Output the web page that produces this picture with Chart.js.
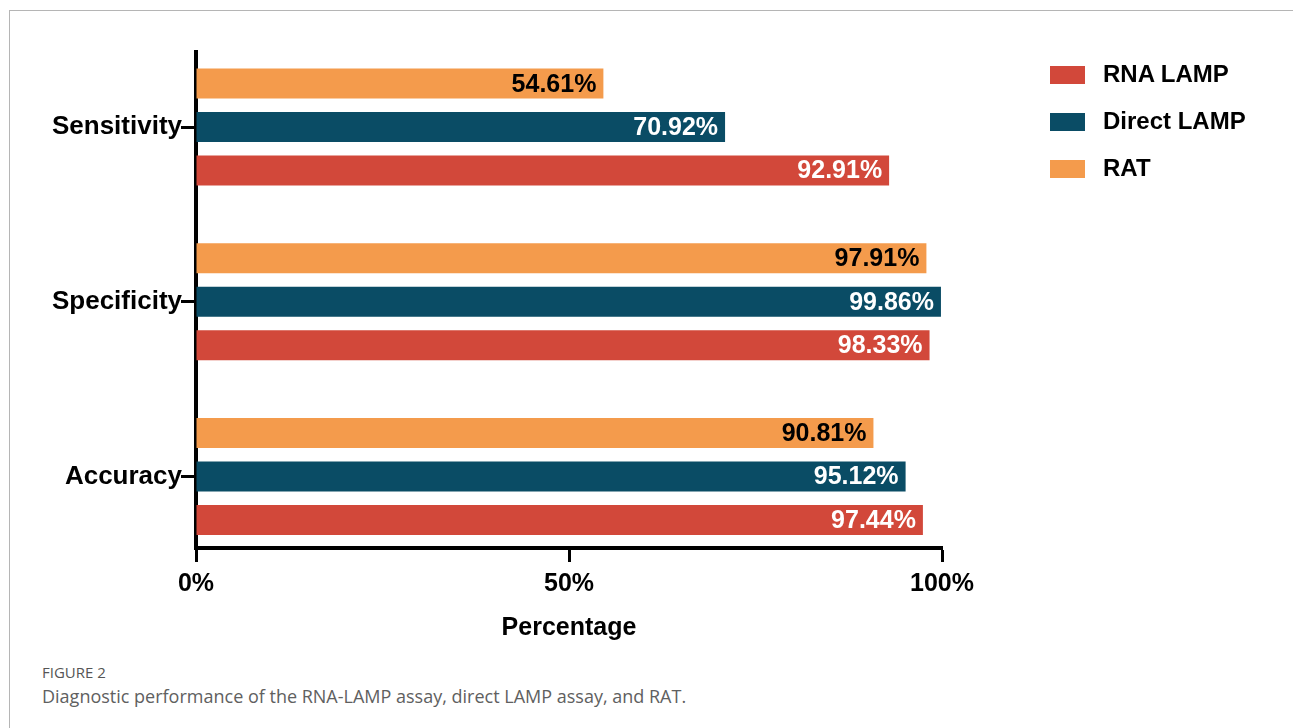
<!DOCTYPE html>
<html>
<head>
<meta charset="utf-8">
<script src="https://cdn.jsdelivr.net/npm/chart.js@4/dist/chart.umd.min.js"></script>
<style>
  html, body { margin: 0; padding: 0; background: #fff; }
  body { width: 1293px; height: 728px; position: relative; overflow: hidden; }
  #frame { position: absolute; left: 9px; top: 10px; right: -5px; bottom: -5px;
           border-left: 1px solid #b5b5b5; border-top: 1px solid #b5b5b5; }
  #wrap { position: absolute; left: 0; top: 0; width: 1293px; height: 650px; }
  #legend { position: absolute; left: 1050px; top: 62px; font-family: "Liberation Sans", Arial, sans-serif;
            font-weight: bold; font-size: 24px; color: #000; }
  #legend .item { height: 24px; line-height: 24px; margin-bottom: 23px; white-space: nowrap; }
  #legend .box { display: inline-block; width: 35px; height: 18px; vertical-align: middle;
                 margin-right: 18px; position: relative; top: -1px; }
  #caption { position: absolute; left: 42px; top: 662px; font-family: "Open Sans", "Noto Sans", sans-serif; color: #555; }
  #caption .fig { font-size: 15px; }
  #caption .txt { font-size: 18px; margin-top: 2px; color: #606060; }
</style>
</head>
<body>
<div id="frame"></div>
<div id="wrap"><canvas id="perfChart" width="1293" height="650"></canvas></div>
<div id="legend"></div>
<div id="caption">
  <div class="fig">FIGURE 2</div>
  <div class="txt">Diagnostic performance of the RNA-LAMP assay, direct LAMP assay, and RAT.</div>
</div>
<script>
// categories, top to bottom
var categories = ['Sensitivity', 'Specificity', 'Accuracy'];
// series values (%)
var ratValues        = [54.61, 97.91, 90.81];
var directLampValues = [70.92, 99.86, 95.12];
var rnaLampValues    = [92.91, 98.33, 97.44];
var xTicks = [0, 50, 100];

var fontMain = 'Liberation Sans';
var fontNarrow = '"Liberation Sans Narrow", "Liberation Sans"';

function toPoints(values) {
  return values.map(function (v, i) { return { x: v, y: i }; });
}

// drawing order inside a group is top -> bottom: RAT, Direct LAMP, RNA LAMP
var datasets = [
  { label: 'RAT',         data: toPoints(ratValues),        backgroundColor: '#f49b4c', labelColor: '#000' },
  { label: 'Direct LAMP', data: toPoints(directLampValues), backgroundColor: '#0a4c65', labelColor: '#fff' },
  { label: 'RNA LAMP',    data: toPoints(rnaLampValues),    backgroundColor: '#d2483a', labelColor: '#fff' }
];

// value labels at the end of each bar
var barLabels = {
  id: 'barLabels',
  afterDatasetsDraw: function (chart) {
    var ctx = chart.ctx;
    ctx.save();
    ctx.font = 'bold 25px ' + fontMain;
    ctx.textAlign = 'right';
    ctx.textBaseline = 'middle';
    chart.data.datasets.forEach(function (ds, di) {
      chart.getDatasetMeta(di).data.forEach(function (bar, i) {
        ctx.fillStyle = ds.labelColor;
        ctx.fillText(ds.data[i].x.toFixed(2) + '%', bar.x - 7, bar.y + 1);
      });
    });
    ctx.restore();
  }
};

var ctx = document.getElementById('perfChart').getContext('2d');
var perfChart = new Chart(ctx, {
  type: 'bar',
  data: { datasets: datasets },
  options: {
    indexAxis: 'y',
    responsive: false,
    animation: false,
    categoryPercentage: 0.747,
    barPercentage: 0.69,
    layout: { padding: { left: 0, top: 52, right: 351, bottom: 0 } },
    plugins: {
      legend: { display: false },
      tooltip: { enabled: false }
    },
    scales: {
      x: {
        type: 'linear',
        min: 0,
        max: 100,
        afterBuildTicks: function (scale) {
          scale.ticks = xTicks.map(function (v) { return { value: v }; });
        },
        afterFit: function (scale) { scale.height = 102; },
        grid: { drawOnChartArea: false, drawTicks: true, tickLength: 14, tickWidth: 3, tickColor: '#000' },
        border: { display: true, color: '#000', width: 4 },
        ticks: {
          color: '#000',
          padding: 7,
          font: { family: fontNarrow, size: 25, weight: 'bold' },
          callback: function (v) { return v + '%'; }
        },
        title: {
          display: true,
          text: 'Percentage',
          color: '#000',
          font: { family: fontNarrow, size: 25, weight: 'bold' },
          padding: { top: 0, bottom: 7 }
        }
      },
      y: {
        type: 'linear',
        reverse: true,
        offset: false,
        min: -0.43,
        max: 2.41,
        afterBuildTicks: function (scale) {
          scale.ticks = categories.map(function (c, i) { return { value: i }; });
        },
        afterFit: function (scale) { scale.width = 196; },
        grid: { offset: false, drawOnChartArea: false, drawTicks: true, tickLength: 15, tickWidth: 3, tickColor: '#000' },
        border: { display: true, color: '#000', width: 4 },
        ticks: {
          color: '#000',
          padding: -1,
          font: { family: fontMain, size: 26, weight: 'bold' },
          callback: function (v) { return categories[v]; }
        }
      }
    }
  },
  plugins: [barLabels]
});

// legend (listed in reverse of drawing order, as in the figure)
var legendEl = document.getElementById('legend');
datasets.slice().reverse().forEach(function (ds) {
  var item = document.createElement('div');
  item.className = 'item';
  item.innerHTML = '<span class="box" style="background:' + ds.backgroundColor + '"></span>' + ds.label;
  legendEl.appendChild(item);
});
</script>
</body>
</html>
